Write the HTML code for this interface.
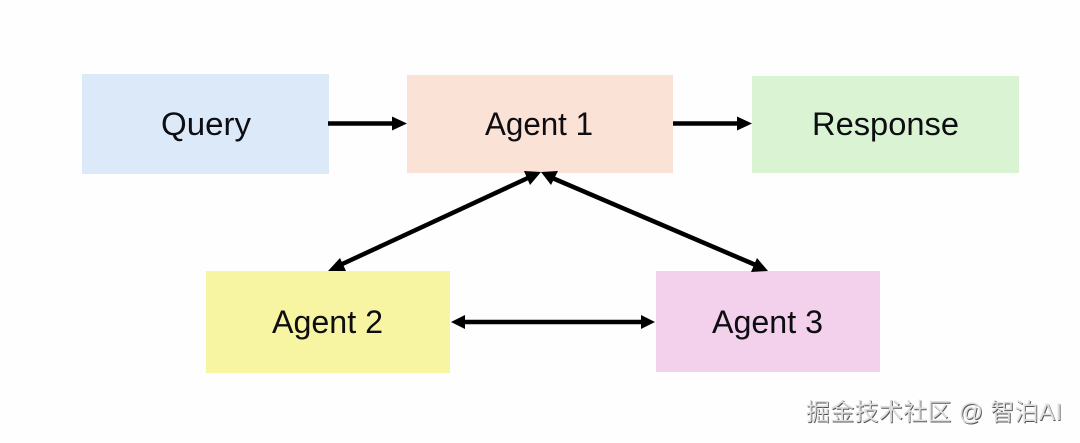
<!DOCTYPE html>
<html>
<head>
<meta charset="utf-8">
<style>
html,body{margin:0;padding:0;background:#fff;}
body{width:1080px;height:443px;overflow:hidden;}
svg{display:block;}
.l{font-family:"Liberation Sans",sans-serif;font-size:32px;fill:#0d0d12;}
.wm{font-family:"Liberation Sans","Noto Sans CJK SC",sans-serif;font-size:24px;fill:#dedede;}
.wd{font-family:"Liberation Sans","Noto Sans CJK SC",sans-serif;font-size:24px;fill:#555;}
</style>
</head>
<body>
<svg width="1080" height="443" viewBox="0 0 1080 443" xmlns="http://www.w3.org/2000/svg">
<rect width="1080" height="443" fill="#fefefe"/>
<rect x="82" y="74" width="247" height="100" fill="#dbe9f9"/>
<rect x="407" y="75" width="266" height="98" fill="#fbe2d6"/>
<rect x="752" y="76" width="267" height="97" fill="#daf3d3"/>
<rect x="206" y="271" width="244" height="102" fill="#f8f5a2"/>
<rect x="656" y="271" width="224" height="101" fill="#f3d1ec"/>

<text class="l" x="161" y="135" textLength="90" lengthAdjust="spacingAndGlyphs">Query</text>
<text class="l" x="485" y="135" textLength="108" lengthAdjust="spacingAndGlyphs">Agent 1</text>
<text class="l" x="812" y="135" textLength="147" lengthAdjust="spacingAndGlyphs">Response</text>
<text class="l" x="272" y="333" textLength="111" lengthAdjust="spacingAndGlyphs">Agent 2</text>
<text class="l" x="712" y="333" textLength="111" lengthAdjust="spacingAndGlyphs">Agent 3</text>

<g stroke="#000" stroke-width="4.5" fill="none">
<line x1="328" y1="123.5" x2="394" y2="123.5"/>
<line x1="673" y1="123.5" x2="740" y2="123.5"/>
<line x1="338" y1="266" x2="530" y2="177"/>
<line x1="550" y1="177" x2="758" y2="266"/>
<line x1="460" y1="322" x2="646" y2="322"/>
</g>
<g fill="#000">
<polygon points="407,123.5 392,116.5 392,130.5"/>
<polygon points="752,123.5 737,116.5 737,130.5"/>
<polygon points="328,271 340,258 346,271"/>
<polygon points="541,172 524,171 530,185"/>
<polygon points="541,172 558,171 551,185"/>
<polygon points="768,271 751,272 757,258"/>
<polygon points="451,322 465,315 465,329"/>
<polygon points="655,322 641,315 641,329"/>
</g>

<text class="wd" x="806.8" y="420.8" textLength="256">掘金技术社区 @ 智泊AI</text>
<text class="wm" x="806" y="420" textLength="256">掘金技术社区 @ 智泊AI</text>
</svg>
</body>
</html>
